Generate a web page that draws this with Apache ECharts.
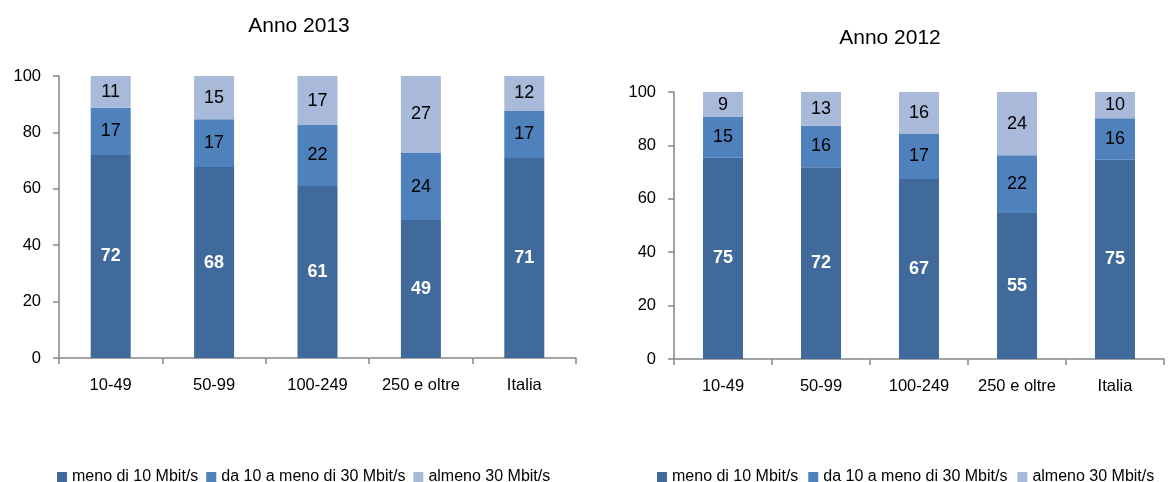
<!DOCTYPE html>
<html>
<head>
<meta charset="utf-8">
<script src="https://cdn.jsdelivr.net/npm/echarts@6/dist/echarts.min.js"></script>
<style>html,body{margin:0;padding:0;background:#fff}#c{width:1174px;height:482px}</style>
</head>
<body>
<div id="c"></div>
<script>
var categories = ['10-49', '50-99', '100-249', '250 e oltre', 'Italia'];
var seriesNames = ['meno di 10 Mbit/s', 'da 10 a meno di 30 Mbit/s', 'almeno 30 Mbit/s'];
var yTicks = [0, 20, 40, 60, 80, 100];
// Anno 2013
var low2013 = [72.0, 67.7, 61.0, 48.9, 70.9];
var mid2013 = [16.7, 17.0, 21.6, 23.8, 16.7];
var high2013 = [11.3, 15.3, 17.4, 27.3, 12.4];
// Anno 2012
var low2012 = [75.4, 71.8, 67.4, 54.7, 74.6];
var mid2012 = [15.2, 15.6, 16.9, 21.6, 15.6];
var high2012 = [9.4, 12.6, 15.7, 23.7, 9.8];

var colors = ['#3F6A9B', '#4F81BD', '#A9B9D9'];
var FONT = 'Liberation Sans, Arial, sans-serif';
var chart = echarts.init(document.getElementById('c'));

function mkSeries(name, data, idx, color, stack, dark) {
  return {
    name: name, type: 'bar', stack: stack, data: data,
    xAxisIndex: idx, yAxisIndex: idx, barWidth: 40,
    itemStyle: { color: color },
    label: {
      show: true, position: 'inside',
      formatter: function (p) { return Math.round(p.value); },
      color: dark ? '#fff' : '#000',
      fontWeight: dark ? 'bold' : 'normal',
      fontSize: 18, fontFamily: FONT
    },
    emphasis: { disabled: true }
  };
}

function xAxis(idx) {
  return {
    type: 'category', gridIndex: idx, data: categories,
    axisLine: { lineStyle: { color: '#868686', width: 1.5 } },
    axisTick: { show: true, length: 6, lineStyle: { color: '#868686', width: 1.5 } },
    axisLabel: { color: '#000', fontSize: 16.5, fontFamily: FONT, margin: 19, interval: 0 }
  };
}
function yAxis(idx) {
  return {
    type: 'value', gridIndex: idx, min: 0, max: 100, interval: 20,
    axisLine: { show: true, lineStyle: { color: '#868686', width: 1.5 } },
    axisTick: { show: true, length: 6, lineStyle: { color: '#868686', width: 1.5 } },
    splitLine: { show: false },
    axisLabel: { color: '#000', fontSize: 16.5, fontFamily: FONT, margin: 18,
      formatter: function (v) { return yTicks.indexOf(v) >= 0 ? String(v) : ''; } }
  };
}
function legend(left, gap) {
  return {
    left: left, top: 464, itemWidth: 10, itemHeight: 10, itemGap: gap, icon: 'rect',
    data: seriesNames,
    textStyle: { color: '#000', fontSize: 16, fontFamily: FONT, padding: [0, 0, 0, 0] }
  };
}

chart.setOption({
  animation: false,
  title: [
    { text: 'Anno 2013', left: 294, top: 11, textAlign: 'center',
      textStyle: { color: '#000', fontSize: 21, fontWeight: 'normal', fontFamily: FONT } },
    { text: 'Anno 2012', left: 885, top: 23, textAlign: 'center',
      textStyle: { color: '#000', fontSize: 21, fontWeight: 'normal', fontFamily: FONT } }
  ],
  legend: [legend(52, 8), legend(652, 10)],
  grid: [
    { left: 59, right: 598, top: 76, bottom: 124 },
    { left: 674, right: 10, top: 92, bottom: 123 }
  ],
  xAxis: [xAxis(0), xAxis(1)],
  yAxis: [yAxis(0), yAxis(1)],
  series: [
    mkSeries(seriesNames[0], low2013, 0, colors[0], 'a', true),
    mkSeries(seriesNames[1], mid2013, 0, colors[1], 'a', false),
    mkSeries(seriesNames[2], high2013, 0, colors[2], 'a', false),
    mkSeries(seriesNames[0], low2012, 1, colors[0], 'b', true),
    mkSeries(seriesNames[1], mid2012, 1, colors[1], 'b', false),
    mkSeries(seriesNames[2], high2012, 1, colors[2], 'b', false)
  ]
});
</script>
</body>
</html>
